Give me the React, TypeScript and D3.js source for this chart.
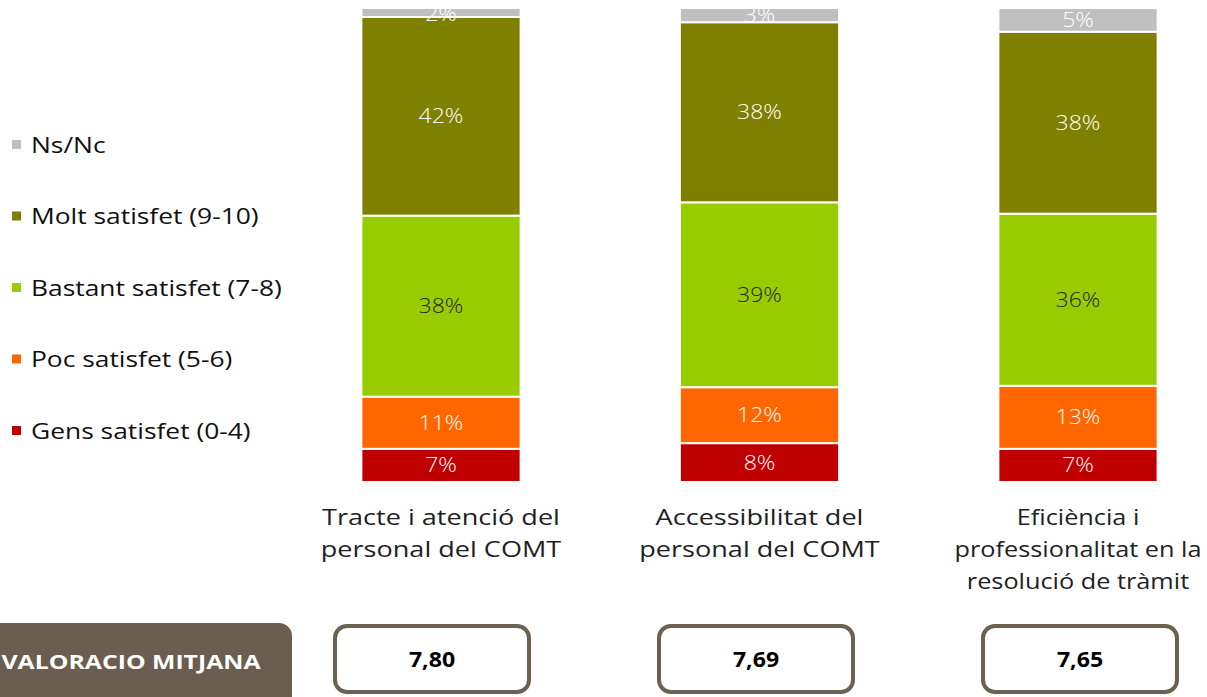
import React from "react";
import * as d3 from "d3";

const categories = [
  ["Tracte i atenció del", "personal del COMT"],
  ["Accessibilitat del", "personal del COMT"],
  ["Eficiència i", "professionalitat en la", "resolució de tràmit"],
];
const seriesNames = [
  "Gens satisfet (0-4)",
  "Poc satisfet (5-6)",
  "Bastant satisfet (7-8)",
  "Molt satisfet (9-10)",
  "Ns/Nc",
];
const gens = [7.0, 8.2, 7.0];
const poc = [11.0, 11.8, 13.3];
const bastant = [38.2, 39.0, 36.3];
const molt = [41.9, 38.0, 38.4];
const nsnc = [1.9, 3.0, 5.0];
const averages = ["7,80", "7,69", "7,65"];

const colors = ["#c00000", "#ff6600", "#99cc00", "#808000", "#bfbfbf"];
const labelColors = ["#fff", "#fff", "#222", "#fff", "#fff"];
const FONT = "'Open Sans', 'Noto Sans', sans-serif";
const CAT_SCALE = [1.23, 1.23, 1.15];

function WideText({ x, y, sx, children, ...rest }: any) {
  return (
    <g transform={`translate(${x},${y}) scale(${sx},1)`}>
      <text x={0} y={0} fontFamily={FONT} {...rest}>
        {children}
      </text>
    </g>
  );
}

export default function App() {
  const W = 1207, H = 697;
  const series = [gens, poc, bastant, molt, nsnc];
  const keys = categories.map((_, i) => String(i));
  const x = d3.scaleBand<string>().domain(keys).range([281.75, 1237.25]).paddingInner(0.5).paddingOuter(0.25);
  const xBox = d3.scaleBand<string>().domain(keys).range([270, 1242]);
  const y = d3.scaleLinear().domain([0, 100]).range([482, 8]);
  const rows = keys.map((k, i) => {
    const r: any = { key: k };
    series.forEach((s, j) => (r["s" + j] = s[i]));
    return r;
  });
  const stack = d3.stack<any>().keys(series.map((_, j) => "s" + j))(rows);
  const legendOrder = [4, 3, 2, 1, 0];
  const legendY = d3.scalePoint<number>().domain(legendOrder).range([145, 431]);

  return (
    <svg width={W} height={H} style={{ position: "absolute", left: 0, top: 0, background: "#fff" }}>
      {stack.map((layer, j) =>
        layer.map((d, i) => {
          const x0 = x(keys[i])!;
          const y0 = y(d[1]);
          const y1 = y(d[0]);
          return (
            <g key={j + "-" + i}>
              <rect x={x0} y={y0} width={x.bandwidth()} height={y1 - y0} fill={colors[j]} stroke="#fff" strokeWidth={2} />
              <WideText
                x={x0 + x.bandwidth() / 2}
                y={Math.max((y0 + y1) / 2, 14)}
                sx={1.15}
                dy="0.35em"
                textAnchor="middle"
                fontSize={20}
                fontWeight={300}
                fill={labelColors[j]}
              >
                {Math.round(series[j][i]) + "%"}
              </WideText>
            </g>
          );
        })
      )}
      {legendOrder.map((j) => (
        <g key={"lg" + j}>
          <rect x={12} y={legendY(j)! - 5} width={9} height={9} fill={colors[j]} />
          <WideText x={31} y={legendY(j)!} sx={1.2} dy="0.35em" fontSize={22} fill="#111">
            {seriesNames[j]}
          </WideText>
        </g>
      ))}
      {categories.map((lines, i) =>
        lines.map((l, k) => (
          <WideText
            key={"c" + i + "-" + k}
            x={x(keys[i])! + x.bandwidth() / 2}
            y={525 + k * 32}
            sx={CAT_SCALE[i]}
            textAnchor="middle"
            fontSize={22}
            fill="#222"
          >
            {l}
          </WideText>
        ))
      )}
      <rect x={-40} y={623} width={332} height={110} rx={13} fill="#6b5d4f" />
      <WideText x={131} y={669} sx={1.24} textAnchor="middle" fontSize={20} fontWeight={700} fill="#fff">
        VALORACIO MITJANA
      </WideText>
      {averages.map((v, i) => {
        const cx = xBox(keys[i])! + xBox.bandwidth() / 2;
        return (
          <g key={"a" + i}>
            <rect x={cx - 97} y={626} width={194} height={66} rx={12} fill="#fff" stroke="#6b6150" strokeWidth={4} />
            <WideText x={cx} y={660} sx={1.1} dy="0.35em" textAnchor="middle" fontSize={21} fontWeight={700} fill="#000">
              {v}
            </WideText>
          </g>
        );
      })}
    </svg>
  );
}
